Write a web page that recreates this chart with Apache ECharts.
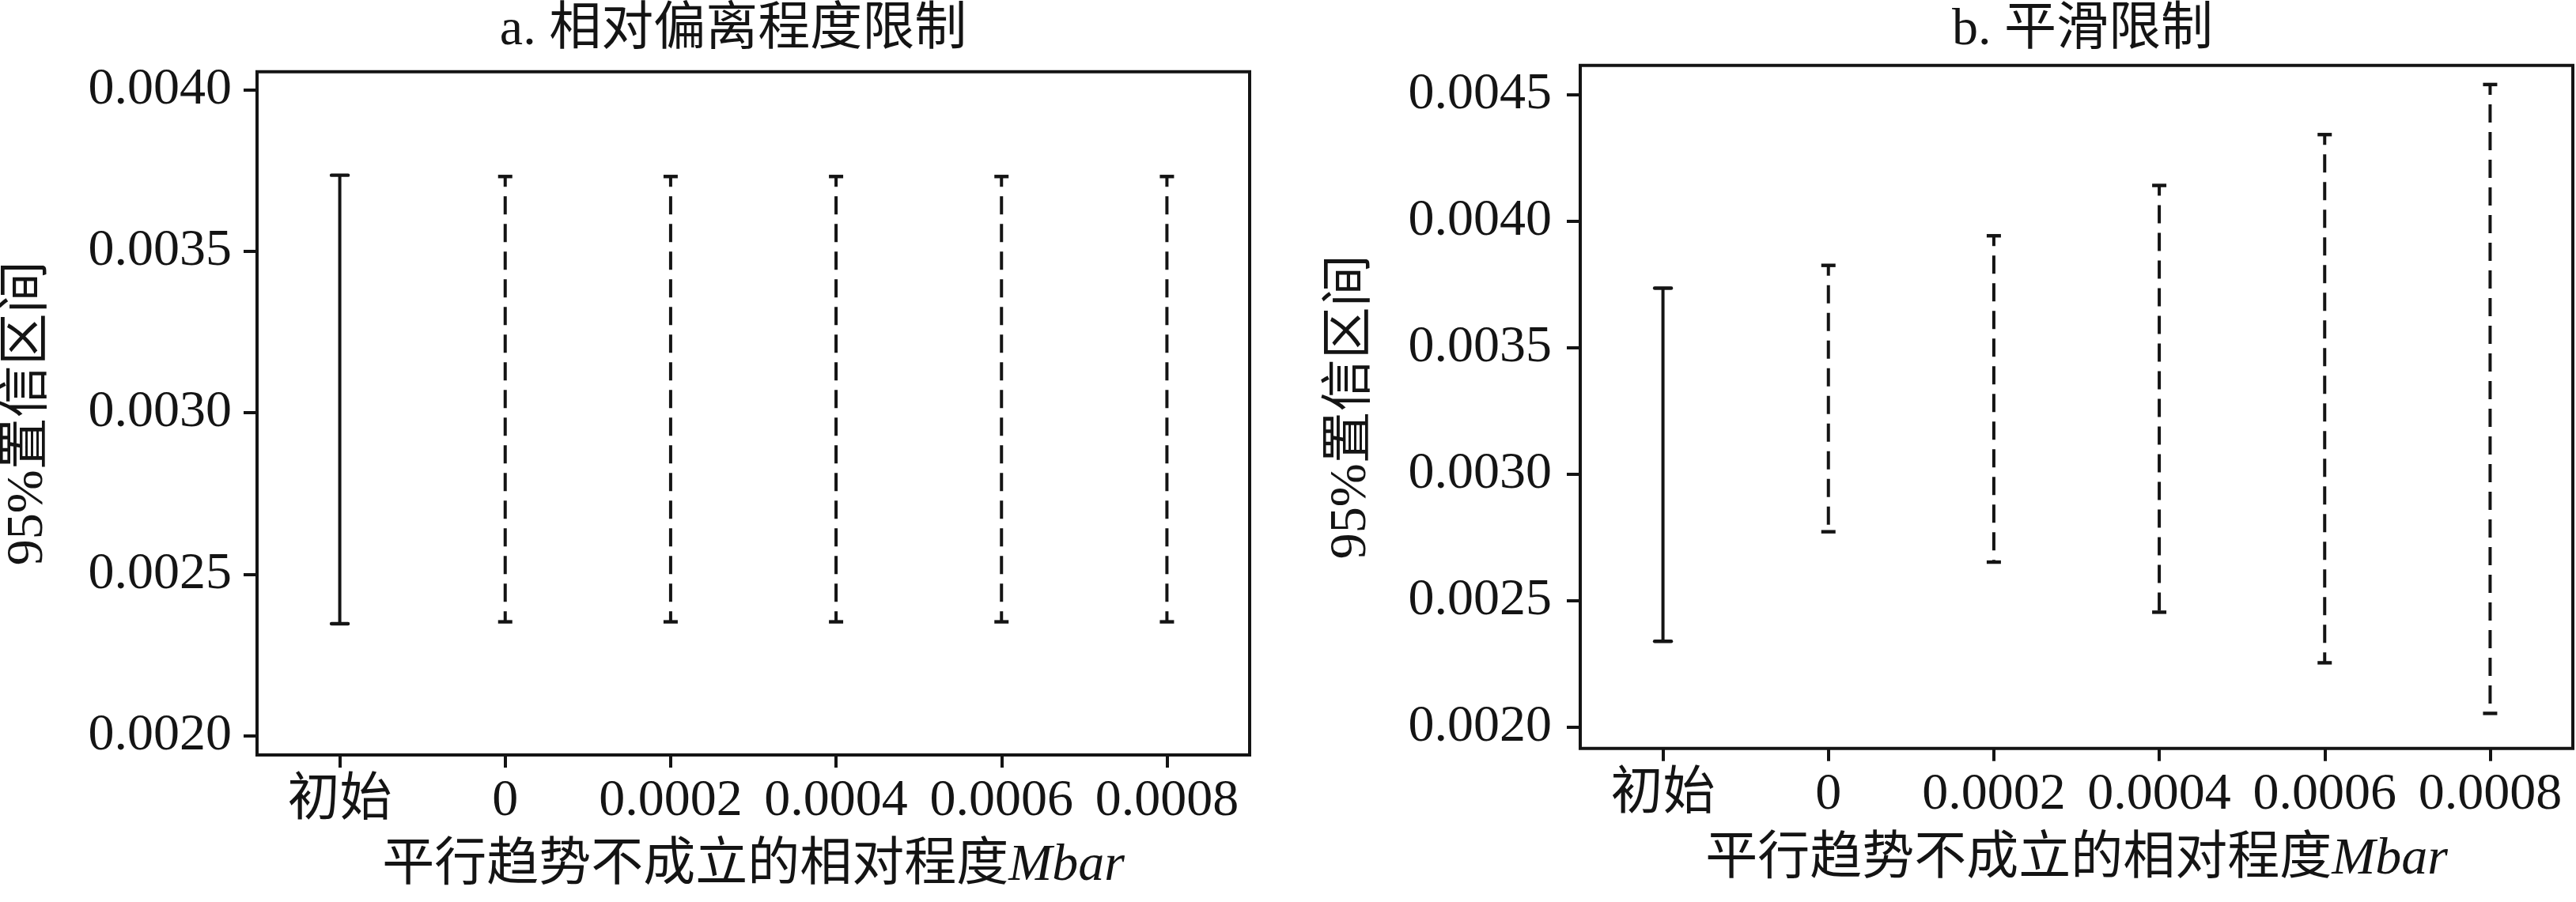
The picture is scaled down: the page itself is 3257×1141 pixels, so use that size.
<!DOCTYPE html>
<html><head><meta charset="utf-8">
<script src="https://cdn.jsdelivr.net/npm/echarts@6/dist/echarts.min.js"></script>
<style>html,body{margin:0;padding:0;background:#fff}#c{width:3257px;height:1141px}</style>
</head><body><div id="c"></div>
<script>
// ---- data ----
const categories = ['初始', '0', '0.0002', '0.0004', '0.0006', '0.0008'];
const yTicksA = [0.0020, 0.0025, 0.0030, 0.0035, 0.0040];
const yTicksB = [0.0020, 0.0025, 0.0030, 0.0035, 0.0040, 0.0045];
const lowerA = [0.002347, 0.002353, 0.002353, 0.002353, 0.002353, 0.002353];
const upperA = [0.003735, 0.003731, 0.003731, 0.003731, 0.003731, 0.003731];
const lowerB = [0.002340, 0.002773, 0.002653, 0.002455, 0.002255, 0.002055];
const upperB = [0.003736, 0.003826, 0.003943, 0.004142, 0.004343, 0.004541];
const titleA = 'a. 相对偏离程度限制';
const titleB = 'b. 平滑限制';
const xNameMain = '平行趋势不成立的相对程度';
const xNameItalic = 'Mbar';
const yName = '95%置信区间';

// ---- style ----
const FONT = "'Liberation Serif', 'Noto Sans CJK SC', serif";
const FS = 66;
const INK = '#141414';

function renderBar(params, api) {
  const i = api.value(0);
  const lo = api.coord([i, api.value(1)]);
  const hi = api.coord([i, api.value(2)]);
  const dashed = i > 0;
  const hw = dashed ? 9 : 10.5;
  return {
    type: 'group',
    children: [
      { type: 'line', shape: { x1: hi[0], y1: hi[1], x2: lo[0], y2: lo[1] },
        style: { stroke: INK, lineWidth: 4, lineDash: dashed ? [23, 12] : null, lineDashOffset: dashed ? 10 : 0 } },
      { type: 'line', shape: { x1: hi[0] - hw, y1: hi[1], x2: hi[0] + hw, y2: hi[1] },
        style: { stroke: INK, lineWidth: 4.4, lineCap: dashed ? 'butt' : 'round' } },
      { type: 'line', shape: { x1: lo[0] - hw, y1: lo[1], x2: lo[0] + hw, y2: lo[1] },
        style: { stroke: INK, lineWidth: 4.4, lineCap: dashed ? 'butt' : 'round' } }
    ]
  };
}

function xAxisCfg(gi) {
  return {
    type: 'category', gridIndex: gi, data: categories, boundaryGap: true,
    axisLine: { show: false },
    axisTick: { show: true, alignWithLabel: true, interval: 0, length: 16, lineStyle: { color: INK, width: 4 } },
    axisLabel: { color: INK, fontFamily: FONT, fontSize: FS, margin: 26, interval: 0 },
    splitLine: { show: false },
    name: xNameMain + '{i|' + xNameItalic + '}', nameLocation: 'middle', nameGap: 108,
    nameTextStyle: { color: INK, fontFamily: FONT, fontSize: FS,
      rich: { i: { fontStyle: 'italic', fontFamily: FONT, fontSize: FS, color: INK } } }
  };
}

function yAxisCfg(gi, min, max, ticks, margin) {
  return {
    type: 'value', gridIndex: gi, min: min, max: max,
    axisLine: { show: false },
    axisTick: { show: true, length: 17, customValues: ticks, lineStyle: { color: INK, width: 4 } },
    axisLabel: { color: INK, fontFamily: FONT, fontSize: FS, margin: margin, customValues: ticks,
      formatter: v => v.toFixed(4) },
    splitLine: { show: false },
    name: yName, nameLocation: 'middle', nameGap: 256,
    nameTextStyle: { color: INK, fontFamily: FONT, fontSize: FS }
  };
}

const chart = echarts.init(document.getElementById('c'), null, { renderer: 'canvas' });
chart.setOption({
  backgroundColor: '#fff',
  animation: false,
  grid: [
    { left: 325, top: 90.7, width: 1255, height: 864.3, show: true, borderColor: INK, borderWidth: 4, backgroundColor: 'transparent' },
    { left: 1998, top: 82.7, width: 1255, height: 864, show: true, borderColor: INK, borderWidth: 4, backgroundColor: 'transparent' }
  ],
  xAxis: [xAxisCfg(0), xAxisCfg(1)],
  yAxis: [
    yAxisCfg(0, 0.001941, 0.0040553, yTicksA, 32),
    yAxisCfg(1, 0.0019166, 0.0046166, yTicksB, 36)
  ],
  graphic: [
    { type: 'text', x: 927, y: 39, style: { text: titleA, fill: INK, font: FS + 'px ' + FONT, textAlign: 'center', textVerticalAlign: 'middle' } },
    { type: 'text', x: 2633, y: 39, style: { text: titleB, fill: INK, font: FS + 'px ' + FONT, textAlign: 'center', textVerticalAlign: 'middle' } }
  ],
  series: [
    { type: 'custom', xAxisIndex: 0, yAxisIndex: 0, renderItem: renderBar, encode: { x: 0, y: [1, 2] },
      data: categories.map((c, i) => [i, lowerA[i], upperA[i]]) },
    { type: 'custom', xAxisIndex: 1, yAxisIndex: 1, renderItem: renderBar, encode: { x: 0, y: [1, 2] },
      data: categories.map((c, i) => [i, lowerB[i], upperB[i]]) }
  ]
});
</script></body></html>
